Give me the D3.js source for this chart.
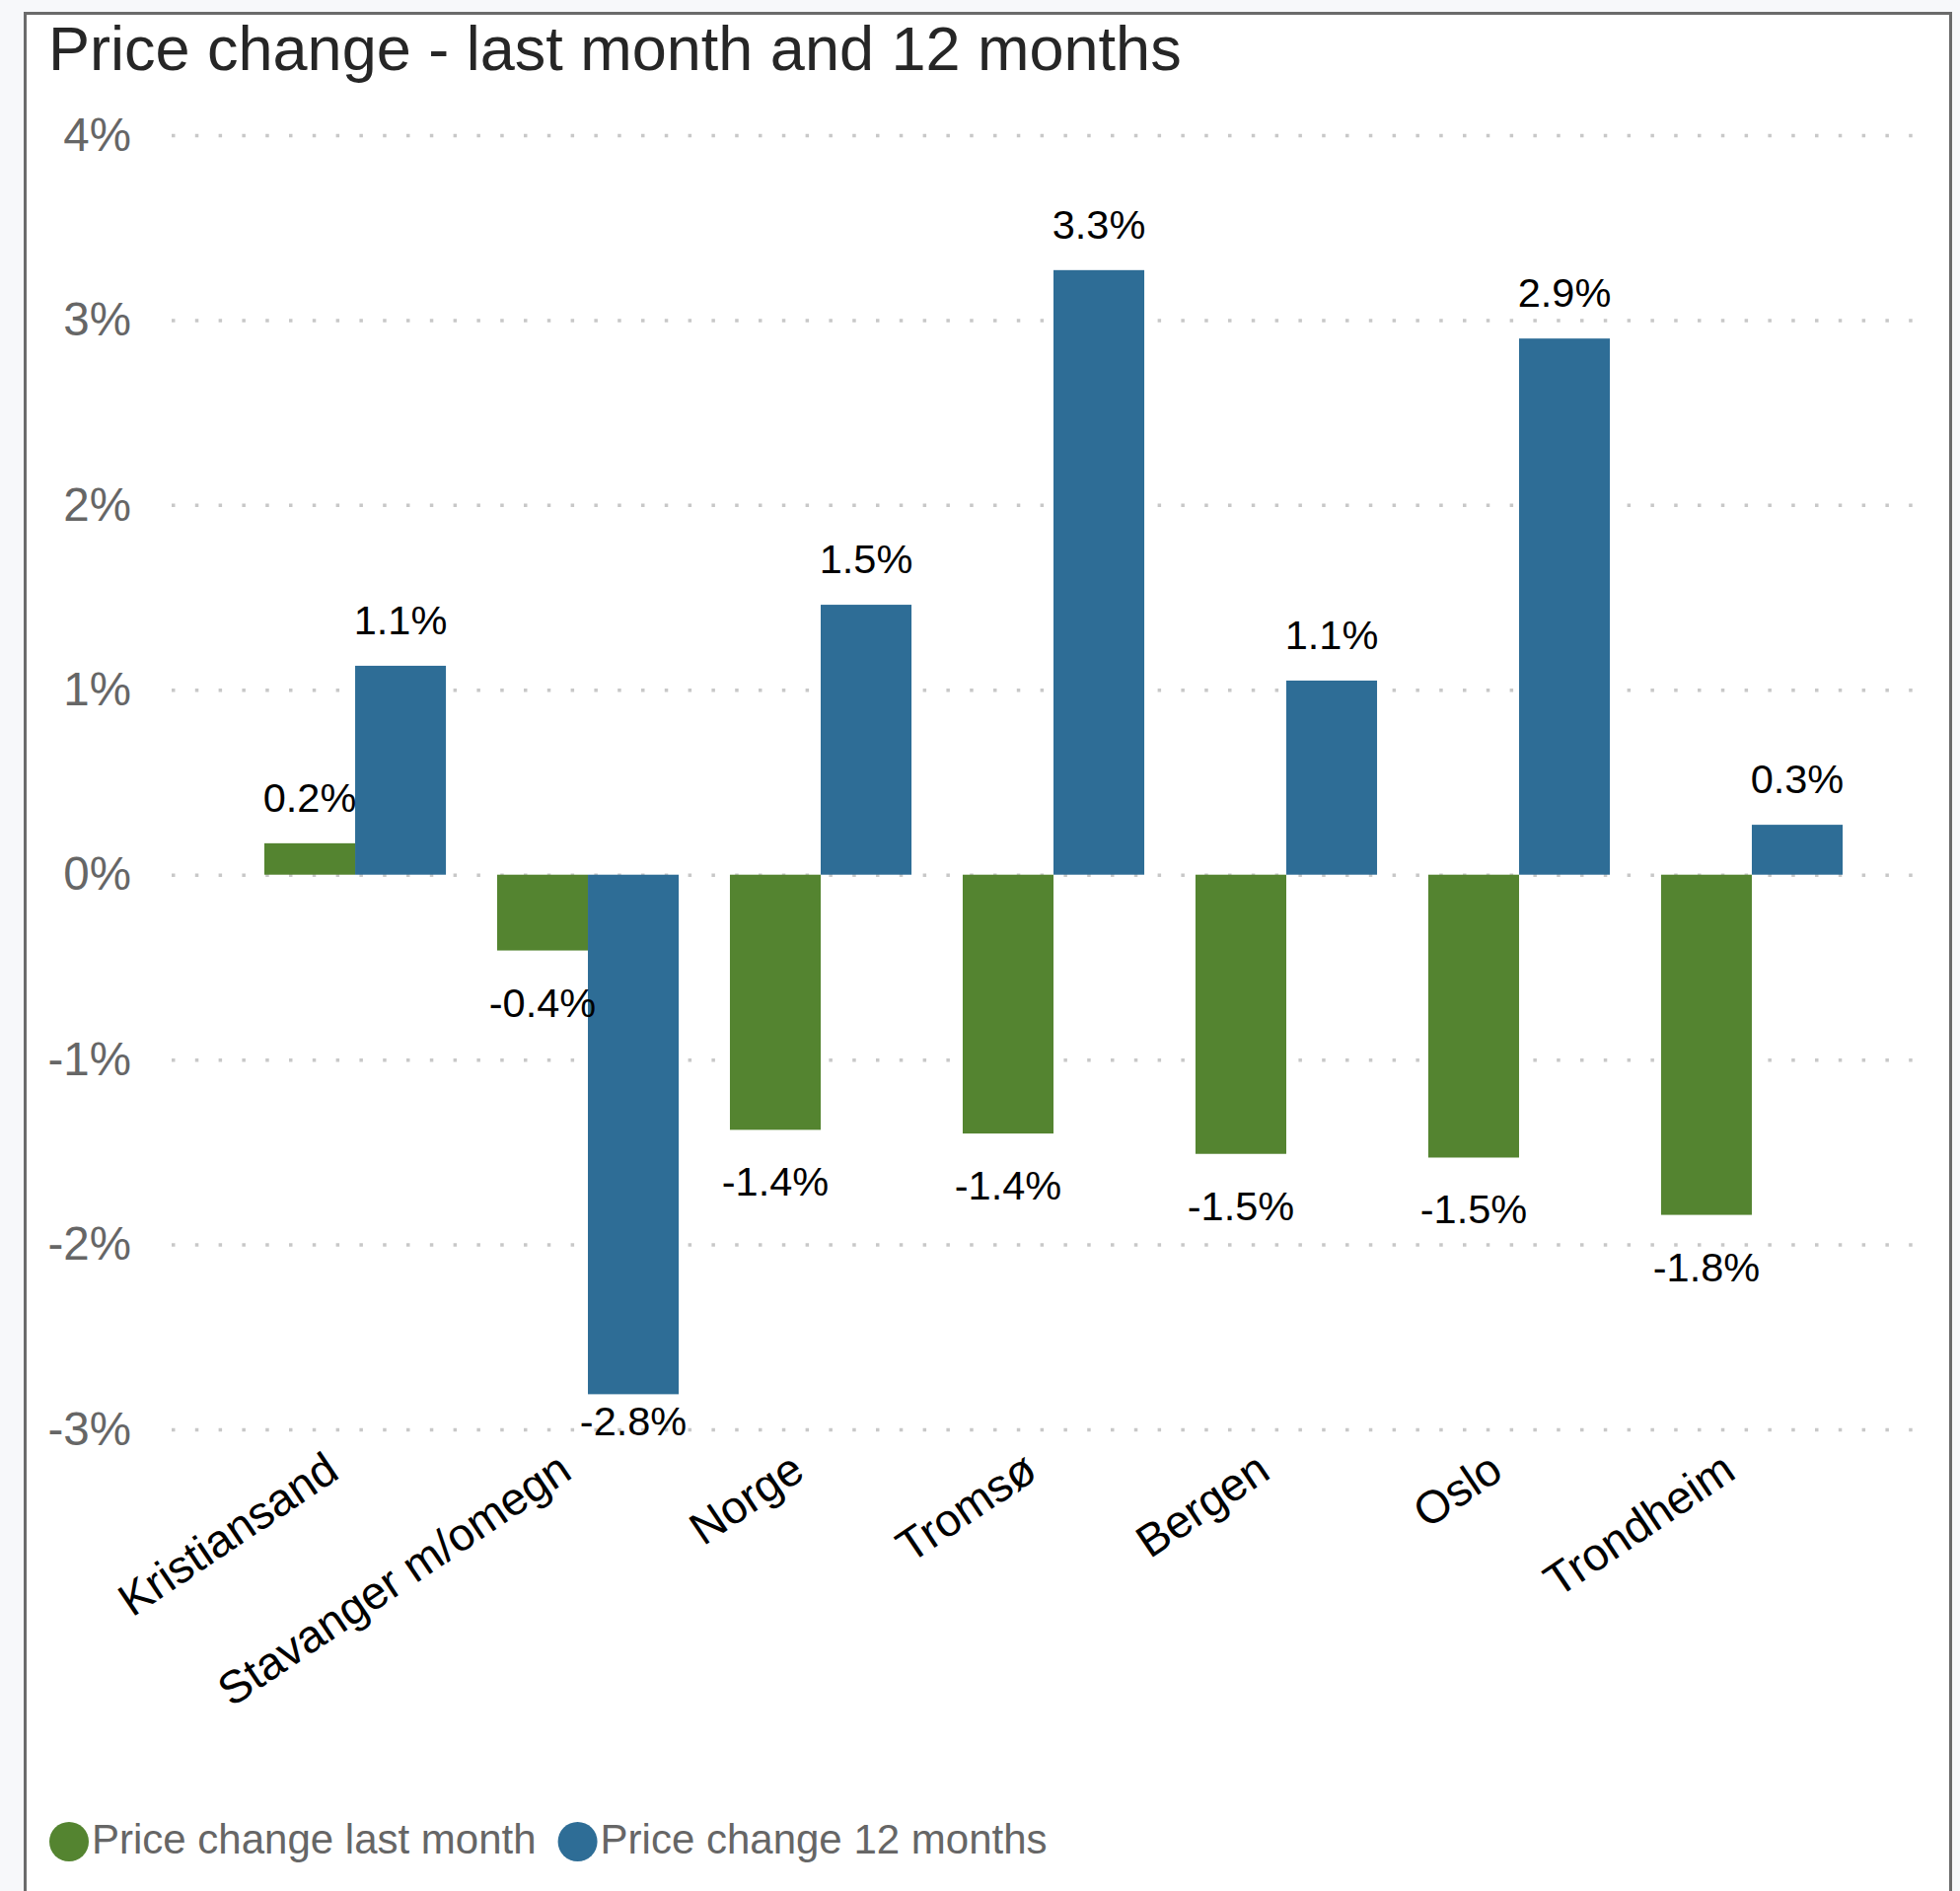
<!DOCTYPE html>
<html>
<head>
<meta charset="utf-8">
<script src="https://cdn.jsdelivr.net/npm/d3@7"></script>
<style>
  html, body { margin: 0; padding: 0; background: #f7f8fa; }
  svg { display: block; }
  text { font-family: "Liberation Sans", Arial, sans-serif; }
</style>
</head>
<body>
<svg id="chart" width="1987" height="1917"></svg>
<script>
const categories = ["Kristiansand", "Stavanger m/omegn", "Norge", "Tromsø", "Bergen", "Oslo", "Trondheim"];
const lastMonth = [0.17, -0.41, -1.38, -1.40, -1.51, -1.53, -1.84];
const twelveMonths = [1.13, -2.81, 1.46, 3.27, 1.05, 2.90, 0.27];
const seriesNames = ["Price change last month", "Price change 12 months"];
const seriesColors = ["#548430", "#2e6d96"];
const yTicks = [-3, -2, -1, 0, 1, 2, 3, 4];
const titleText = "Price change - last month and 12 months";

const svg = d3.select("#chart");

// panel with border
svg.append("rect")
  .attr("x", 25.5).attr("y", 13.5)
  .attr("width", 1952).attr("height", 1960)
  .attr("fill", "#ffffff")
  .attr("stroke", "#6b6b6b").attr("stroke-width", 3);

svg.append("text")
  .attr("x", 49).attr("y", 71)
  .attr("font-size", 63).attr("fill", "#262626")
  .text(titleText);

const y = d3.scaleLinear().domain([-3, 4]).range([1449, 137]);
const x = d3.scaleBand().domain(categories).range([150, 1986]).paddingInner(0.22).paddingOuter(0.5);
const xs = d3.scaleBand().domain(seriesNames).range([0, x.bandwidth()]);

const locale = d3.formatLocale({ decimal: ".", thousands: ",", grouping: [3], currency: ["", ""], minus: "-" });
const fmt = locale.format(".1f");

// y axis with dotted gridlines
const gridLeft = 174, gridRight = 1952;
const yAxis = svg.append("g")
  .attr("transform", `translate(${gridLeft},0)`)
  .call(d3.axisLeft(y).tickValues(yTicks).tickFormat(d => (d < 0 ? "-" + Math.abs(d) : d) + "%")
    .tickSize(-(gridRight - gridLeft)).tickPadding(41));
yAxis.select(".domain").remove();
yAxis.selectAll("line")
  .attr("stroke", "#c8c8c8").attr("stroke-width", 3.5)
  .attr("stroke-dasharray", "3.5,20.3");
yAxis.selectAll("text")
  .attr("font-size", 47.5).attr("fill", "#666666")
  .attr("font-family", "Liberation Sans, Arial, sans-serif");

// x axis labels
const xAxis = svg.append("g")
  .attr("transform", "translate(0,1497)")
  .call(d3.axisBottom(x).tickSize(0).tickPadding(0));
xAxis.select(".domain").remove();
xAxis.selectAll("text")
  .attr("y", 0).attr("dy", 0)
  .attr("text-anchor", "end")
  .attr("transform", "translate(-14,0) rotate(-34)")
  .attr("font-size", 46.5).attr("fill", "#000")
  .attr("font-family", "Liberation Sans, Arial, sans-serif");

// bars
const data = categories.map((c, i) => ({ cat: c, vals: [lastMonth[i], twelveMonths[i]] }));
const groups = svg.append("g").selectAll("g").data(data).join("g")
  .attr("transform", d => `translate(${x(d.cat)},0)`);

groups.selectAll("rect")
  .data(d => d.vals.map((v, j) => ({ v, s: seriesNames[j], j })))
  .join("rect")
  .attr("x", d => xs(d.s))
  .attr("width", xs.bandwidth())
  .attr("y", d => y(Math.max(0, d.v)))
  .attr("height", d => Math.abs(y(d.v) - y(0)))
  .attr("fill", d => seriesColors[d.j]);

groups.selectAll("text.lbl")
  .data(d => d.vals.map((v, j) => ({ v, s: seriesNames[j], j })))
  .join("text")
  .attr("class", "lbl")
  .attr("x", d => xs(d.s) + xs.bandwidth() / 2)
  .attr("y", d => d.v >= 0 ? y(d.v) - 32 : Math.min(y(d.v) + 67, y(-3) + 6))
  .attr("text-anchor", "middle")
  .attr("font-size", 41.5).attr("fill", "#000")
  .text(d => fmt(d.v) + "%");

// legend
const legend = svg.append("g");
let lx = 50;
seriesNames.forEach((name, i) => {
  legend.append("circle")
    .attr("cx", lx + 20).attr("cy", 1867).attr("r", 20)
    .attr("fill", seriesColors[i]);
  const t = legend.append("text")
    .attr("x", lx + 43).attr("y", 1879)
    .attr("font-size", 42).attr("fill", "#666666")
    .text(name);
  lx = lx + 43 + t.node().getComputedTextLength() + 22;
});
</script>
</body>
</html>
